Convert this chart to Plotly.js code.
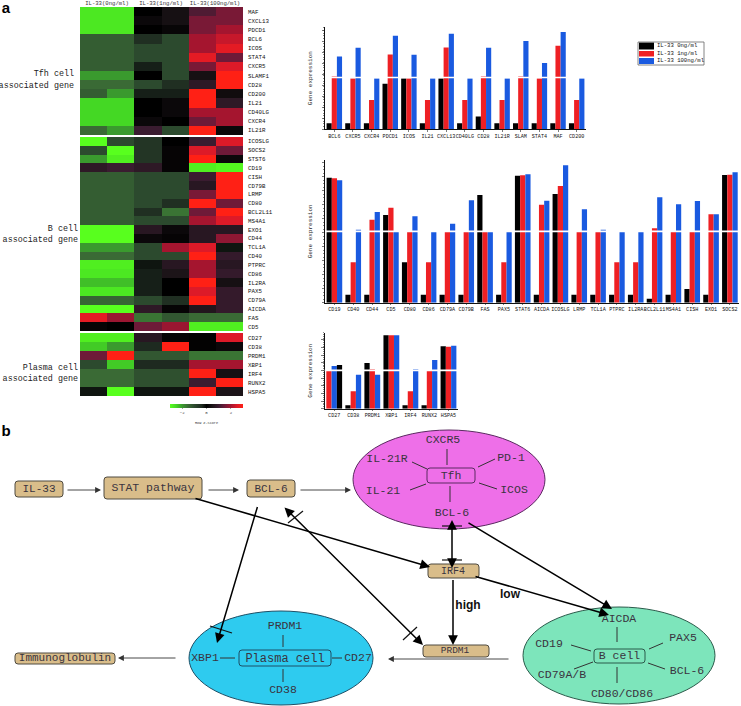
<!DOCTYPE html>
<html><head><meta charset="utf-8">
<script src="https://cdn.plot.ly/plotly-3.0.1.min.js"></script>
<style>html,body{margin:0;padding:0;background:#fff}#c{width:741px;height:706px}</style>
</head><body><div id="c"></div>
<script>
// ---------- heatmap data ----------
const tfhGenes = ['MAF','CXCL13','PDCD1','BCL6','ICOS','STAT4','CXCR5','SLAMF1','CD28','CD200','IL21','CD40LG','CXCR4','IL21R'];
const tfhZ = [[-2.7,-2.7,0,.4,1.2,1.6],[-2.7,-2.7,.2,.4,1.6,1.6],[-2.7,-2.7,0,.15,1.6,2],[-1.3,-1.3,-.5,-1,2,2.3],[-1.3,-1.3,-1,-1,2,2.6],[-1.3,-1.3,-1,-1,2.6,1.5],[-1.3,-1.3,-.3,-1,1.6,2.5],[-2,-2,0,-1,.4,3],[-1.5,-1.5,-1,-.5,.8,3],[-1.3,-2,-.3,-.3,3,.3],[-2.5,-2.5,0,.2,3,.8],[-2.5,-2.5,0,.2,2,2],[-2.5,-2.5,.2,0,1.5,2],[-1.5,-2,1,-1,3,.2]];
const bGenes = ['ICOSLG','SOCS2','STST6','CD19','CISH','CD79B','LRMP','CD80','BCL2L11','MS4A1','EXO1','CD44','TCL1A','CD40','PTPRC','CD86','IL2RA','PAX5','CD79A','AICDA','FAS','CD5'];
const bZ = [[-3,-1,-.6,0,1,2.5],[-1,-3,-.6,.1,2.5,1.5],[-2,-2.8,-.6,.1,3,.2],[.8,1,.8,.1,-2.8,-2.9],[-1.3,-1.3,-1,-1,1,3],[-1.3,-1.3,-1,-1,.7,3],[-1.3,-1.3,-1,-1,1.6,3],[-1.3,-1.3,-1,-.5,3,1.5],[-1.3,-1.3,-.5,-1.6,1.5,3],[-1.3,-1.3,-1,-1,2,2.5],[-3,-3,.7,.2,.7,.7],[-3,-3,.2,.1,.7,1.8],[-2,-2,-1,2,2.5,-.2],[-1.5,-1.5,-1,-1,3,.9],[-2.8,-2.8,-.2,.7,2,.7],[-2.7,-2.7,-.3,.5,2,.9],[-2.3,-2.3,-.3,0,3,.4],[-2.7,-2.7,-.3,0,2.5,.9],[-1.4,-1.4,-1,-.5,3,.9],[-3,-3,.8,.1,.6,.9],[2.6,1.9,-1.6,-1.2,-1.5,-1.5],[.1,0,1.5,1.9,-2.8,-2.8]];
const pGenes = ['CD27','CD38','PRDM1','XBP1','IRF4','RUNX2','HSPA5'];
const pZ = [[-2.8,-2.8,.7,.1,.05,2.5],[-2.4,-2,-.4,3,.05,.2],[1.5,3,-1.2,-1.2,-1.6,-1.6],[-1,-2.4,-.4,-.4,2,2],[-1.5,-1.5,-1.1,-1.1,3,.4],[-1.5,-1.5,-1.1,-1.1,1,3],[-.2,-3,-.2,-.2,3,.5]];
const heatCols = [0,1,2,3,4,5];
const heatHeads = [['IL-33(0ng/ml)',107],['IL-33(1ng/ml)',161],['IL-33(100ng/ml)',215]];
const heatScale = [[0,'#58ff1e'],[.083,'#44d824'],[.167,'#3a9a2e'],[.25,'#3a6a35'],[.333,'#2c4a2e'],[.433,'#1e2a20'],[.5,'#000000'],[.583,'#1c1418'],[.667,'#3a1c30'],[.75,'#6e1a38'],[.833,'#a5152f'],[.917,'#dd1a28'],[1,'#ff2015']];

// ---------- bar data (relative expression, axis is broken at breakN) ----------
const seriesNames = ['IL-33 0ng/ml','IL-33 1ng/ml','IL-33 100ng/ml'];
const seriesColors = ['#000000','#ee2024','#1a5ae0'];
const tfhBarGenes = ['BCL6','CXCR5','CXCR4','PDCD1','ICOS','IL21','CXCL13','CD40LG','CD28','IL21R','SLAM','STAT4','MAF','CD200'];
const tfh0 = [18,18,18,136,152,18,152,18,38,18,18,18,18,18];
const tfh1 = [158,152,88,224,152,88,245,88,158,88,158,152,250,88];
const tfh2 = [218,244,152,280,223,152,286,152,244,152,264,198,291,152];
const bBarGenes = ['CD19','CD40','CD44','CD5','CD80','CD86','CD79A','CD79B','FAS','PAX5','STAT6','AICDA','ICOSLG','LRMP','TCL1A','PTPRC','IL2RA','BCL2L11','MS4A1','CISH','EXO1','SOCS2'];
const b0 = [375,24,24,263,121,24,24,24,323,24,381,24,326,24,24,24,24,12,24,41,24,383];
const b1 = [373,121,249,285,213,121,213,213,213,121,382,294,350,213,213,121,121,223,213,213,265,384];
const b2 = [367,219,272,213,259,213,237,307,213,213,385,306,412,280,219,213,213,316,295,305,265,391];
const pBarGenes = ['CD27','CD38','PRDM1','XBP1','IRF4','RUNX2','HSPA5'];
const p0 = [114,10,137,220,10,10,187];
const p1 = [128,52,118,220,52,113,186];
const p2 = [131,102,102,220,118,146,189];
const p0Colors = ['#ee2024','#000000','#000000','#000000','#000000','#000000','#000000'];
const p1Colors = ['#1a5ae0','#ee2024','#ee2024','#ee2024','#ee2024','#ee2024','#ee2024'];
const p2Colors = ['#000000','#1a5ae0','#1a5ae0','#1a5ae0','#1a5ae0','#1a5ae0','#1a5ae0'];

// ---------- diagram ----------
const ellipses = [[353,430,545,529,'#ee6fe8','#5a2a60'],[189,611,373,705,'#2ecbef','#1d4f66'],[523,607,715,704,'#7de5bb','#2a5a4a']];
const tanBoxes = [[15,481,63,497],[104,477,202,499],[247,480,295,497],[428,564,479,578],[423,645,489,657],[15,653,115,664]];
const cellBoxes = [[427,468,475,483,'#5a2a60'],[239,650,331,666,'#1d4f66'],[594,649,645,663,'#2a5a4a']];
const thinLines = [[447,449,447,465],[412,462,427,469],[478,467,495,459],[410,490,426,484],[479,483,497,489],[450,486,450,502],
  [617,627,617,642],[571,645,591,651],[649,649,663,643],[574,669,593,662],[648,663,665,669],[617,667,617,683],
  [283,635,283,647],[283,669,283,682],[220,658,235,658],[332,658,342,658]];
const blockers = [[288,523,303,511],[403,640,417,627],[210,626,232,633],[442,526,462,526],[442,560,462,560]];
const thinArrows = [[66,490,101,490],[207,490,239,490],[299,490,351,490],[510,659,388,659],[177,658,118,658]];
const boldArrows = [[194,498,430,567,0],[258,505,217,643,0],[283,506,423,645,1],[452,518,452,568,1],[467,522,612,609,0],[474,576,609,615,0],[453,578,453,645,0]];
const labels = [['IL-33',39,489,11],['STAT pathway',153,488,11.5],['BCL-6',271,489,11],['IRF4',453,571,10],['PRDM1',455,651,9.5],['Immunoglobulin',65,658.5,11],
  ['CXCR5',443,440,11.5],['IL-21R',387,459,11.5],['PD-1',511,458,11.5],['IL-21',383,491,11.5],['ICOS',514,490,11.5],['BCL-6',452,513,11.5],['Tfh',451,476,11.5],
  ['PRDM1',285,626,11.5],['CD38',283,690,11.5],['XBP1',205,658,11.5],['CD27',358,658,11.5],['Plasma cell',285,659,12],
  ['AICDA',619,619,11.5],['CD19',549,644,11.5],['PAX5',683,638,11.5],['CD79A/B',562,675,11.5],['BCL-6',687,671,11.5],['CD80/CD86',622,694,11.5],['B cell',619.5,656.5,11.5]];
const sideLabels = [['Tfh cell',74,74],['associated gene',74,86],['B cell',78,229],['associated gene',78,240],['Plasma cell',78,368],['associated gene',78,379]];
const legendRows = [[0,42.6,49.5],[1,51,56.5],[2,58,64]];

const W=741,H=706,MONO='"Liberation Mono", monospace',SANS='"Liberation Sans", Arial, sans-serif';
const dx=(a,b)=>[a/W,b/W], dy=(a,b)=>[1-b/H,1-a/H];
const hide={visible:false,fixedrange:true};
const data=[], shapes=[], annotations=[];
const layout={width:W,height:H,margin:{l:0,r:0,t:0,b:0},paper_bgcolor:'#fff',plot_bgcolor:'rgba(0,0,0,0)',showlegend:false,barmode:'group',bargap:.17,bargroupgap:0,
  xaxis:{...hide,domain:[0,1],range:[0,W]},yaxis:{...hide,domain:[0,1],range:[H,0]},shapes,annotations};

function heat(n,genes,z,top,bot,extra){
  layout['xaxis'+n]={...hide,domain:dx(80,243),range:[-.5,5.5],anchor:'y'+n};
  layout['yaxis'+n]={domain:dy(top,bot),type:'category',autorange:'reversed',side:'right',anchor:'x'+n,showgrid:false,zeroline:false,showline:false,ticks:'',tickmode:'linear',tick0:0,dtick:1,ticklabelstandoff:4,tickfont:{family:MONO,size:5.8,color:'#111'},fixedrange:true};
  data.push(Object.assign({type:'heatmap',x:heatCols,y:genes,z:z,xaxis:'x'+n,yaxis:'y'+n,zmin:-3,zmax:3,colorscale:heatScale,showscale:false,hoverongaps:false},extra||{}));
}
heat(2,tfhGenes,tfhZ,7,135);
heat(3,bGenes,bZ,137,331);
heat(4,pGenes,pZ,333,396,{showscale:true,colorbar:{orientation:'h',lenmode:'pixels',len:73,thickness:4,thicknessmode:'pixels',x:206.5/W,xanchor:'center',y:1-404/H,yanchor:'top',xpad:0,ypad:0,outlinewidth:0,tickmode:'array',tickvals:[-2,0,2],ticklen:1.5,tickwidth:.5,tickfont:{family:MONO,size:4,color:'#333'},title:{text:'Row Z-Score',side:'bottom',font:{family:MONO,size:3.5,color:'#333'}}}});

function bars(n,genes,s0,s1,s2,x0,x1,top,bot,maxV,breakV,dtick,minor,colorsets){
  layout['xaxis'+n]={domain:dx(x0,x1),range:[-.5,genes.length-.5],type:'category',anchor:'y'+n,showline:true,linecolor:'#111',linewidth:1,showgrid:false,zeroline:false,ticks:'outside',ticklen:1.5,tickwidth:.7,tickangle:0,tickmode:'linear',tick0:0,dtick:1,ticklabelstandoff:0,tickfont:{family:MONO,size:5.1,color:'#111'},fixedrange:true};
  layout['yaxis'+n]={domain:dy(top,bot),range:[0,maxV],anchor:'x'+n,showline:true,linecolor:'#111',linewidth:1,showgrid:false,zeroline:false,ticks:'outside',ticklen:2.5,tickwidth:.7,tick0:0,dtick:dtick,minor:{dtick:minor,ticks:'outside',ticklen:1.2,tickwidth:.5,tickcolor:'#111'},showticklabels:false,title:{text:'Gene expression',font:{family:MONO,size:6,color:'#222'},standoff:8},fixedrange:true};
  [s0,s1,s2].forEach((s,i)=>data.push({type:'bar',name:seriesNames[i],x:genes,y:s,xaxis:'x'+n,yaxis:'y'+n,marker:{color:colorsets?colorsets[i]:seriesColors[i],line:{width:0}}}));
  shapes.push({type:'line',xref:'x'+n,yref:'y'+n,x0:-.6,x1:genes.length-.5,y0:breakV,y1:breakV,layer:'above',line:{color:'#fff',width:1.6}});
}
bars(5,tfhBarGenes,tfh0,tfh1,tfh2,325,586,27,129.3,306,155,33,8);
bars(6,bBarGenes,b0,b1,b2,325,739.3,160,302.7,428,214,42,10.5);
bars(7,pBarGenes,p0,p1,p2,324.7,458,332.7,408.7,228,115,23,5.7,[p0Colors,p1Colors,p2Colors]);

// legend key
shapes.push({type:'rect',xref:'x',yref:'y',x0:638,x1:704,y0:42,y1:65,line:{color:'#666',width:.8},layer:'below'});
legendRows.forEach(r=>shapes.push({type:'rect',xref:'x',yref:'y',x0:639,x1:654,y0:r[1],y1:r[2],fillcolor:seriesColors[r[0]],line:{width:0},layer:'below'}));

// diagram shapes
ellipses.forEach(e=>shapes.push({type:'circle',xref:'x',yref:'y',x0:e[0],y0:e[1],x1:e[2],y1:e[3],fillcolor:e[4],line:{color:e[5],width:1},layer:'below'}));
function round(a,b,c,d,r){return `M${a+r},${b}L${c-r},${b}Q${c},${b} ${c},${b+r}L${c},${d-r}Q${c},${d} ${c-r},${d}L${a+r},${d}Q${a},${d} ${a},${d-r}L${a},${b+r}Q${a},${b} ${a+r},${b}Z`;}
tanBoxes.forEach(b=>shapes.push({type:'path',xref:'x',yref:'y',path:round(b[0],b[1],b[2],b[3],3),fillcolor:'#d9bd8a',line:{color:'#4f4a40',width:1},layer:'below'}));
cellBoxes.forEach(b=>shapes.push({type:'path',xref:'x',yref:'y',path:round(b[0],b[1],b[2],b[3],3),fillcolor:'rgba(0,0,0,0)',line:{color:b[4],width:1},layer:'below'}));
thinLines.forEach(l=>shapes.push({type:'line',xref:'x',yref:'y',x0:l[0],y0:l[1],x1:l[2],y1:l[3],line:{color:'#333',width:1},layer:'below'}));
blockers.forEach(l=>shapes.push({type:'line',xref:'x',yref:'y',x0:l[0],y0:l[1],x1:l[2],y1:l[3],line:{color:'#111',width:1.2},layer:'above'}));

const arrow=(a,w,col,sz,both)=>annotations.push(Object.assign({xref:'x',yref:'y',axref:'x',ayref:'y',x:a[2],y:a[3],ax:a[0],ay:a[1],text:' ',font:{size:1},showarrow:true,arrowhead:2,arrowsize:sz,arrowwidth:w,arrowcolor:col,standoff:0,startstandoff:0},both?{arrowside:'end+start',startarrowhead:2,startarrowsize:sz}:{}));
thinArrows.forEach(a=>arrow(a,.9,'#333',1.3,false));
boldArrows.forEach(a=>arrow(a,1.5,'#000',1.3,a[4]===1));

// all texts of the page drawn from overlay axes
const txt=(arr,pos,fam,col)=>data.push({type:'scatter',mode:'text',xaxis:'x',yaxis:'y',hoverinfo:'skip',x:arr.map(t=>t[1]),y:arr.map(t=>t[2]),text:arr.map(t=>t[0]),textposition:pos,textfont:{family:fam,color:col,size:arr.map(t=>t[3])}});
txt(labels,'middle center',MONO,'#3a3440');
txt(sideLabels.map(s=>[s[0],s[1],s[2],8.4]),'middle left',MONO,'#222');
txt(heatHeads.map(h=>[h[0],h[1],4,5.6]),'middle center',MONO,'#333');
txt(seriesNames.map((n,i)=>[n,657,[46,54,61][i],5.6]),'middle right',MONO,'#111');
txt([['high',468,606,12],['low',510,595,12]],'middle center',SANS,'#111');
txt([['a',6,9,15],['b',6,432,15]],'middle center',SANS,'#000');
data[data.length-1].texttemplate='<b>%{text}</b>';
data[data.length-2].texttemplate='<b>%{text}</b>';

Plotly.newPlot('c',data,layout,{staticPlot:true,displayModeBar:false});
</script></body></html>
